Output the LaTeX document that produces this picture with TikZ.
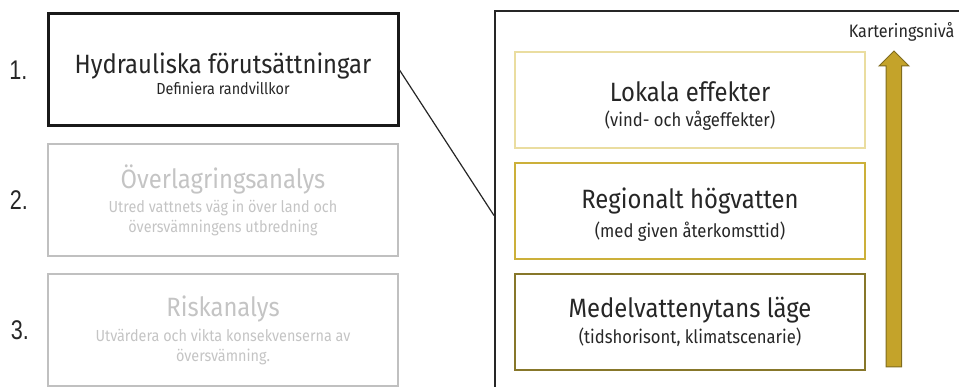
\documentclass[tikz,border=0pt]{standalone}
\usepackage{fontspec}
\setmainfont{Fira Sans}[FakeStretch=0.9]
\newfontfamily\numfont{Liberation Sans}[FakeStretch=0.8]
\usetikzlibrary{positioning}

\definecolor{fadeline}{RGB}{192,192,192}
\definecolor{fadetext}{RGB}{196,196,196}
\definecolor{goldlight}{RGB}{234,221,160}
\definecolor{goldmid}{RGB}{204,176,58}
\definecolor{golddark}{RGB}{135,119,42}
\definecolor{arrowgold}{RGB}{196,163,42}
\definecolor{arrowedge}{RGB}{128,108,30}

\newcommand{\subleft}{\fontsize{16}{20}\selectfont}
\newcommand{\subright}{\fontsize{18.5}{20}\selectfont}
% strut that pushes a title line down a little
\newcommand{\lowerby}[1]{\rule{0pt}{#1}}

\begin{document}
\begin{tikzpicture}[
  x=1pt, y=-1pt,
  font=\fontsize{26.5}{20}\selectfont,
  stage/.style={draw, line width=2pt, minimum width=350pt, minimum height=112pt,
                align=center, inner sep=0pt},
  active/.style={stage, draw=black!90, line width=3pt, text=black!85},
  faded/.style={stage, draw=fadeline, text=fadetext},
  num/.style={font=\numfont\fontsize{27}{27}\selectfont, inner sep=0pt, text=black!85},
  level/.style={draw, line width=2pt, minimum width=350pt, minimum height=96pt,
                align=center, inner sep=0pt, text=black!85}
]
\useasboundingbox (0,0) rectangle (959,387);
\clip (0,0) rectangle (959,387);

% --- Process steps on the left ---
\node[active] (hyd) at (223,70)
  {\lowerby{28pt}Hydrauliska förutsättningar\\[1pt]\subleft Definiera randvillkor};
\node[faded, below=16pt of hyd] (overlag)
  {Överlagringsanalys\\[4pt]\subleft Utred vattnets väg in över land och\\\subleft översvämningens utbredning};
\node[faded, below=16pt of overlag] (risk)
  {Riskanalys\\[5pt]\subleft Utvärdera och vikta konsekvenserna av\\\subleft översvämning.};

\node[num, left=19pt of hyd] (n1) {1.};
\node[num, left=19pt of overlag] (n2) {2.};
\node[num, left=18pt of risk] (n3) {3.};

% --- Detail frame on the right ---
\node[draw=black!85, line width=2pt, minimum width=480pt, minimum height=409pt]
  (frame) at (735,215.5) {};
\draw[line width=1.2pt, black!85] (hyd.east) -- (frame.west);

% --- Mapping levels ---
\node[level, draw=goldlight] (lokal) at (690,100)
  {\lowerby{31pt}Lokala effekter\\[5pt]\subright (vind- och vågeffekter)};
\node[level, draw=goldmid, below=13pt of lokal] (region)
  {\lowerby{28pt}Regionalt högvatten\\[6pt]\subright (med given återkomsttid)};
\node[level, draw=golddark, below=13pt of region] (medel)
  {Medelvattenytans läge\\[4pt]\subright (tidshorisont, klimatscenarie)};

% --- Level arrow ---
\draw[fill=arrowgold, draw=arrowedge, line width=1pt]
  (894,51) -- (909,66) -- (901.5,66) -- (901.5,367) -- (886,367)
  -- (886,66) -- (879,66) -- cycle;
\node[anchor=base east, font=\fontsize{18}{18}\selectfont, text=black!85]
  (karttitle) at (958,38) {Karteringsnivå};

\end{tikzpicture}
\end{document}
